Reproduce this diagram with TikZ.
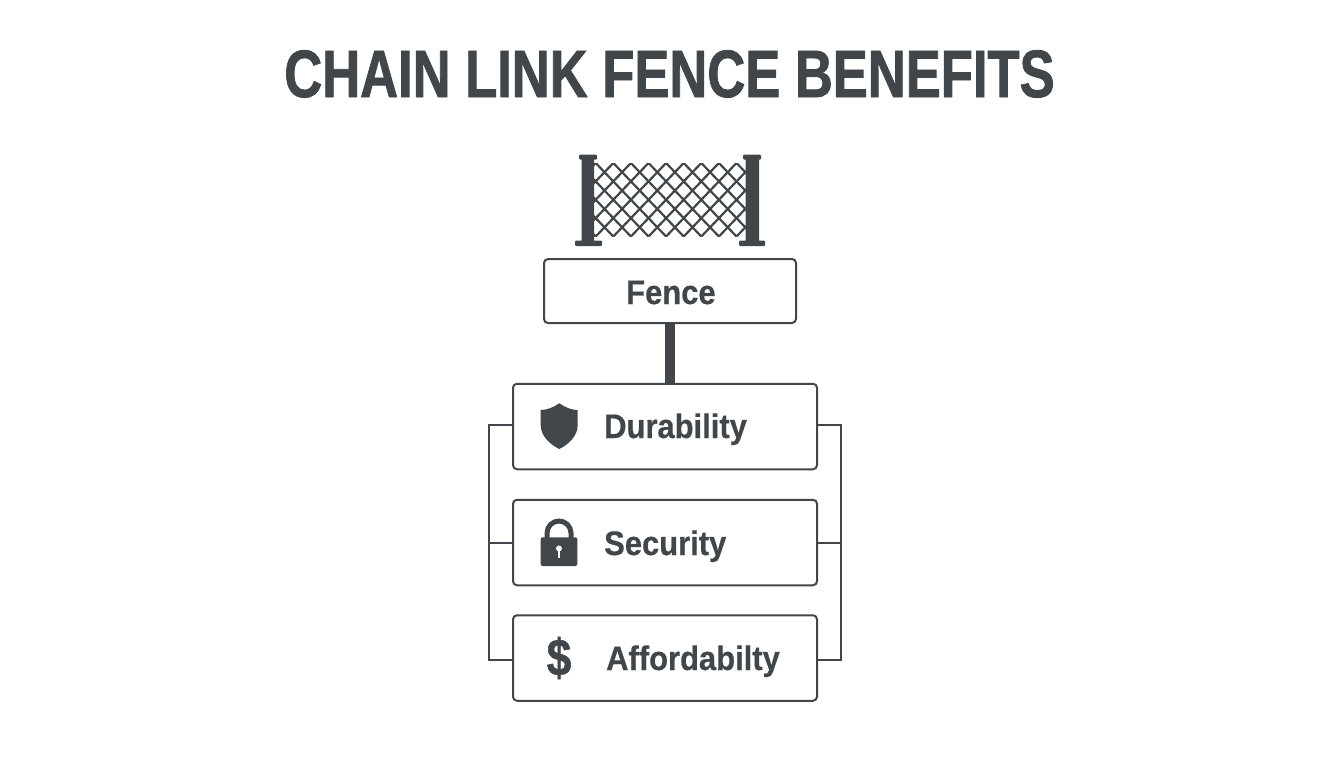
\documentclass[tikz,border=0pt]{standalone}
\usepackage{fontspec}
\setmainfont{Liberation Sans}
\newfontfamily\titlefont[FakeStretch=0.784,FakeBold=1.2]{Liberation Sans Bold}
\newfontfamily\labelfont[FakeStretch=0.91,FakeBold=0.5]{Liberation Sans Bold}
\newfontfamily\dollarfont[FakeStretch=0.85,FakeBold=1]{Liberation Sans Bold}
\usetikzlibrary{positioning}
\definecolor{slate}{HTML}{41464A}
\tikzset{
    itembox/.style={
           rectangle,
           rounded corners=4pt,
           draw=slate, line width=2pt,
           fill=white,
           outer sep=0pt,
           minimum width=304pt,
           minimum height=85.5pt,
           },
    rail/.style={draw=slate, line width=2pt},
    iconfill/.style={fill=slate, draw=none},
    label/.style={text=slate, font=\fontsize{34}{38}\labelfont, anchor=base west, inner sep=0pt},
}
\begin{document}
\begin{tikzpicture}[x=1pt,y=-1pt]
      \useasboundingbox (0,0) rectangle (1344,768);
      \node[text=slate, font=\fontsize{67}{72}\titlefont, inner sep=0pt, anchor=base] (title) at (669.5,97) {CHAIN LINK FENCE BENEFITS};
      % fence picture
      \begin{scope}
        \clip (594,163) rectangle (746,236.5);
        \foreach \k in {-5,...,9}
          \draw[slate, line width=2.2pt] (595.7+\k*17.6,163) -- ++(70.4,73.5)
                                         (595.7+\k*17.6+70.4,163) -- ++(-70.4,73.5);
      \end{scope}
      \fill[slate, rounded corners=1pt] (581.7,155) rectangle (594,246) (579,154.7) rectangle (597,159.5) (575,240.5) rectangle (602,246);
      \fill[slate, rounded corners=1pt] (745.7,155) rectangle (759,246) (743,154.7) rectangle (761,159.5) (739,240.5) rectangle (765,246);
      % boxes
      \node[itembox, minimum width=252pt, minimum height=64pt] (fence) at (670,291) {};
      \node[itembox] (durability) at (665,426.5) {};
      \node[itembox] (security) [below=30.5pt of durability] {};
      \node[itembox] (affordability) [below=30pt of security] {};
      \node[label] (fencetext) at (626,304) {Fence};
      \node[label] (durabilitytext) at (604,438) {Durability};
      \node[label] (securitytext) at (604,555) {Security};
      \node[label] (affordabilitytext) at (606,670) {Affordabilty};
      \draw[slate, line width=10pt] (fence.south) -- (fence.south |- durability.north);
      % side rails
      \coordinate (railleft) at (489,0);
      \coordinate (railright) at (840.5,0);
      \coordinate (railtop) at (0,425);
      \coordinate (railbottom) at (0,660);
      \path[rail] (durability.west |- railtop) -- (railleft |- railtop) -- (railleft |- railbottom) -- (affordability.west |- railbottom);
      \path[rail] (security.west) -- (security.west -| railleft);
      \path[rail] (durability.east |- railtop) -- (railright |- railtop) -- (railright |- railbottom) -- (affordability.east |- railbottom);
      \path[rail] (security.east) -- (security.east -| railright);
      % icons
      \fill[iconfill] (559.3,403.3) .. controls (553,407.5) and (547,410) .. (540.7,410)
          -- (540.7,425) .. controls (540.7,436) and (550,444.5) .. (559.3,449)
          .. controls (568.5,444.5) and (577.7,436) .. (577.7,425)
          -- (577.7,410) .. controls (571.5,410) and (565.5,407.5) .. (559.3,403.3) -- cycle;
      \draw[slate, line width=5pt] (547,540) -- (547,533) arc[start angle=180, end angle=0, x radius=12, y radius=-12] -- (571,540);
      \fill[iconfill, rounded corners=2pt] (540.7,537.3) rectangle (577.3,566);
      \fill[white] (559,548.5) circle (3pt);
      \fill[white] (557.6,549) rectangle (560.4,557.7);
      \node[text=slate, font=\fontsize{52}{56}\dollarfont, inner sep=0pt] (dollar) at (559,658) {\$};
      \end{tikzpicture}
\end{document}
